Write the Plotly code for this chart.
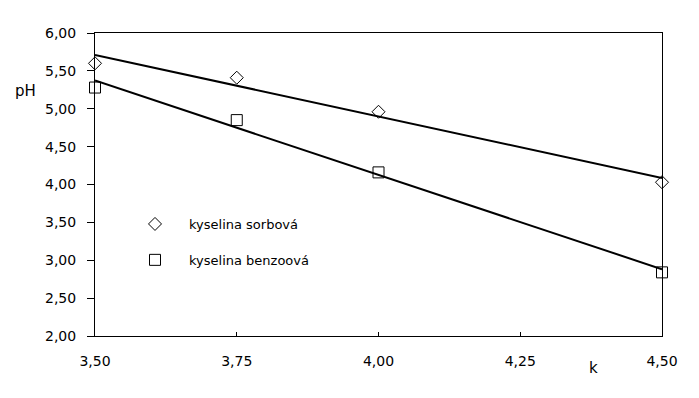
import numpy as np
import plotly.graph_objects as go

k = [3.50, 3.75, 4.00, 4.50]
ph_sorbova = [5.60, 5.41, 4.96, 4.03]
ph_benzoova = [5.28, 4.85, 4.16, 2.84]
names = ["kyselina sorbová", "kyselina benzoová"]
x_ticks = [3.50, 3.75, 4.00, 4.25, 4.50]
y_ticks = [2.0, 2.5, 3.0, 3.5, 4.0, 4.5, 5.0, 5.5, 6.0]

font = "DejaVu Sans, Verdana, sans-serif"
fig = go.Figure()

for i, (ys, sym) in enumerate([(ph_sorbova, "diamond-open"), (ph_benzoova, "square-open")]):
    fig.add_trace(go.Scatter(
        x=k, y=ys, mode="markers", name=names[i], legendgroup=str(i), cliponaxis=False,
        marker=dict(symbol=sym, size=10 if i == 0 else 11, color="black", line=dict(width=1, color="black")),
    ))

for ys in [ph_sorbova, ph_benzoova]:
    a, b = np.polyfit(k, ys, 1)
    xs = [min(x_ticks), max(x_ticks)]
    fig.add_trace(go.Scatter(
        x=xs, y=[a * x + b for x in xs], mode="lines", showlegend=False,
        line=dict(color="black", width=2), hoverinfo="skip",
    ))

# page body has an 8px margin; figure starts at (8, 8)
W, H = 691, 390
L, R, T, B = 87, 37, 25, 62
pw, ph = W - L - R, H - T - B

def px(xp, yp):
    # convert page pixel coords to paper coords
    return (xp - 8 - L) / pw, 1 - (yp - 8 - T) / ph

lx, ly = px(121, 209)
ax1 = px(25, 91)
ax2 = px(593, 368)

fig.update_layout(
    width=W, height=H,
    margin=dict(l=L, r=R, t=T, b=B),
    paper_bgcolor="white", plot_bgcolor="white",
    separators=", ",
    font=dict(family=font, size=13, color="black"),
    showlegend=True,
    legend=dict(x=lx, y=ly, xanchor="left", yanchor="top", bgcolor="rgba(0,0,0,0)",
                traceorder="grouped", tracegroupgap=16, itemwidth=58,
                font=dict(family=font, size=13)),
    xaxis=dict(range=[3.5, 4.5], tickvals=x_ticks, tickformat=".2f",
               showgrid=False, zeroline=False, showline=True, linecolor="black", linewidth=1,
               mirror=True, ticks="inside", ticklen=4, tickcolor="black",
               ticklabelstandoff=12, tickfont=dict(size=14)),
    yaxis=dict(range=[2, 6], tickvals=y_ticks, tickformat=".2f",
               showgrid=False, zeroline=False, showline=True, linecolor="black", linewidth=1,
               mirror=True, ticks="outside", ticklen=7, tickcolor="black",
               ticklabelstandoff=8, tickfont=dict(size=14)),
    annotations=[
        dict(text="pH", x=ax1[0], y=ax1[1], xref="paper", yref="paper", showarrow=False,
             xanchor="center", yanchor="middle", font=dict(size=15)),
        dict(text="k", x=ax2[0], y=ax2[1], xref="paper", yref="paper", showarrow=False,
             xanchor="center", yanchor="middle", font=dict(size=15)),
    ],
)

fig.write_html("out.html")
